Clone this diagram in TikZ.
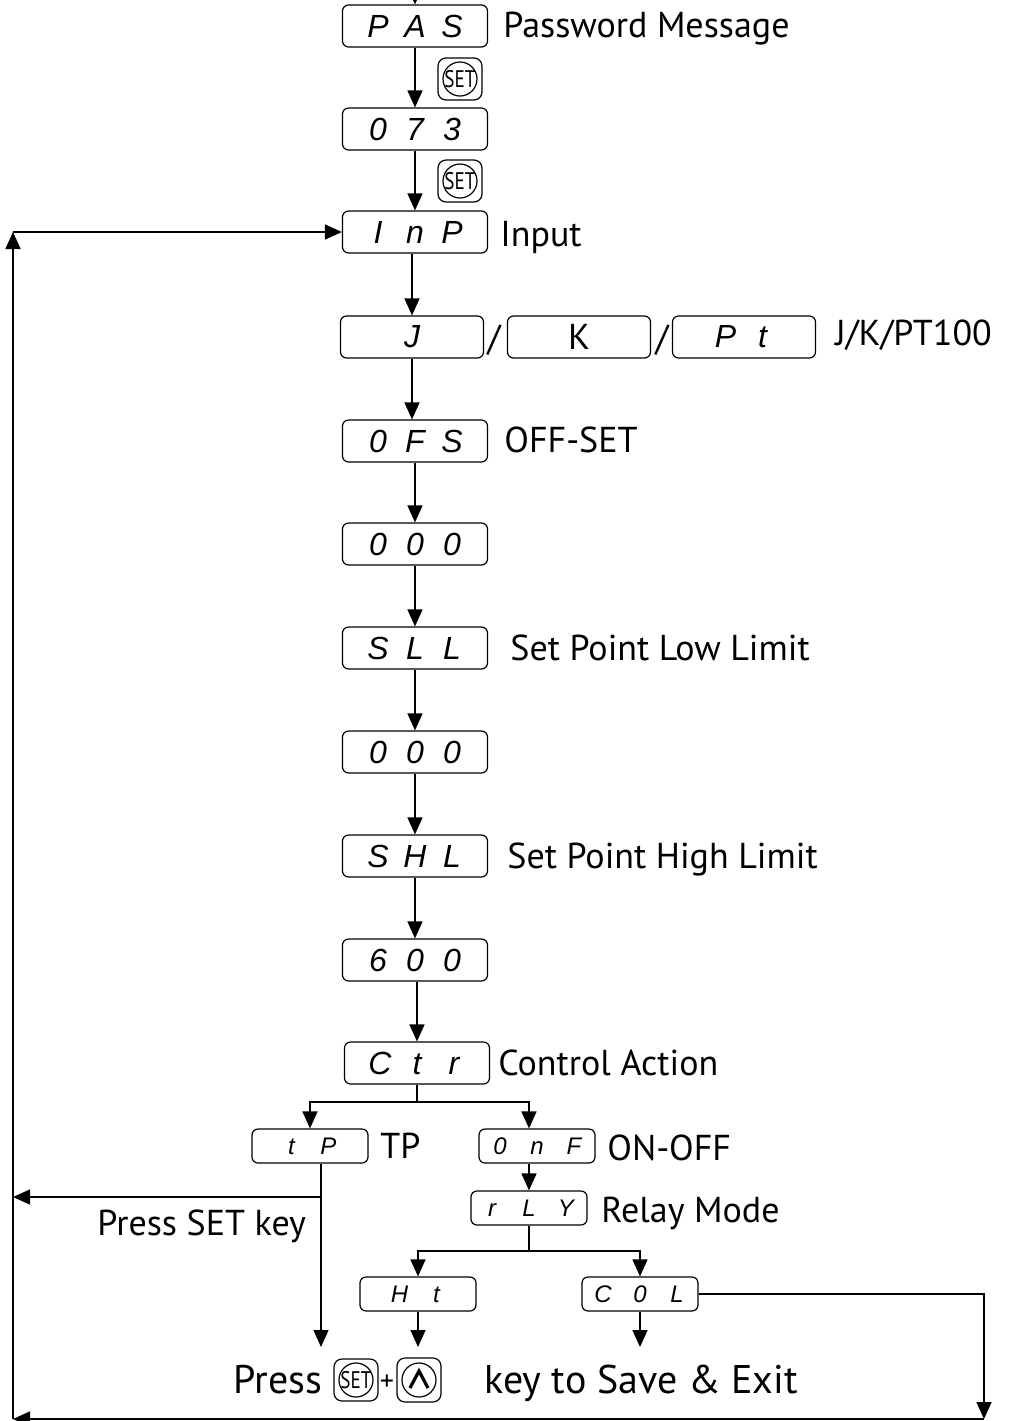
\documentclass[tikz,border=0pt]{standalone}
\usepackage{fontspec}
\setmainfont{PT Sans}
\newfontfamily\segfont{Liberation Sans}
\usetikzlibrary{arrows.meta}

\newcommand\sg[1]{\makebox[18.5pt]{#1}}

\tikzset{
  setkey/.pic={
    \draw[line width=0.6pt, rounded corners=4pt] (-22,-21) rectangle (22,21);
    \draw[line width=0.6pt] (0,0) circle[radius=8.5pt];
    \node[inner sep=0pt, font=\fontsize{12}{12}\selectfont] {\scalebox{0.8}[1]{SET}};
  },
  upkey/.pic={
    \draw[line width=0.6pt, rounded corners=4pt] (-22,-22) rectangle (22,22);
    \draw[line width=0.6pt] (0,0) circle[radius=8.5pt];
    \draw[line width=1.6pt] (-9,8) -- (0,-9) -- (9,8);
  }
}

\begin{document}
\begin{tikzpicture}[x=0.5pt,y=-0.5pt,
    arr/.style={-{Triangle[length=8.5pt,width=7.5pt]}, line width=0.8pt},
    disp/.style={draw, line width=0.6pt, rounded corners=3pt, minimum width=72.5pt,
      minimum height=21pt, inner sep=0pt, font=\segfont\itshape\fontsize{16}{16}\selectfont},
    small/.style={disp, minimum width=58pt, minimum height=17pt,
      font=\segfont\itshape\fontsize{12}{12}\selectfont},
    lbl/.style={anchor=base west, inner sep=0pt, font=\fontsize{18}{18}\selectfont},
    big/.style={anchor=base west, inner sep=0pt, font=\fontsize{20}{20}\selectfont}]
  \useasboundingbox (0,0) rectangle (1011,1421);
  \clip (0,0) rectangle (1011,1421);

  % display boxes
  \node[disp] (pas) at (415,26) {\sg{P}\sg{A}\sg{S}};
  \node[disp] (pwd) at (415,129) {\sg{0}\sg{7}\sg{3}};
  \node[disp] (inp) at (415,232) {\sg{I}\sg{n}\sg{P}};
  \node[disp, minimum width=71.5pt] (tcj) at (412,337) {\sg{J}};
  \node[disp, minimum width=71.5pt, font=\fontsize{18}{18}\selectfont] (tck) at (579,337) {K};
  \node[disp, minimum width=71.5pt] (rtd) at (744,337) {\sg{P}\sg{t}};
  \node[inner sep=0pt, font=\fontsize{18}{18}\selectfont] (sl1) at (494,340) {/};
  \node[inner sep=0pt, font=\fontsize{18}{18}\selectfont] (sl2) at (662,340) {/};
  \node[disp] (ofs) at (415,441) {\sg{0}\sg{F}\sg{S}};
  \node[disp] (ofv) at (415,544) {\sg{0}\sg{0}\sg{0}};
  \node[disp] (sll) at (415,648) {\sg{S}\sg{L}\sg{L}};
  \node[disp] (slv) at (415,752) {\sg{0}\sg{0}\sg{0}};
  \node[disp] (shl) at (415,856) {\sg{S}\sg{H}\sg{L}};
  \node[disp] (shv) at (415,960) {\sg{6}\sg{0}\sg{0}};
  \node[disp] (ctr) at (417,1063) {\sg{C}\sg{t}\sg{r}};
  \node[small] (tp) at (310,1146) {\sg{t}\sg{P}};
  \node[small] (onf) at (537,1146) {\sg{0}\sg{n}\sg{F}};
  \node[small] (rly) at (529,1208) {\sg{r}\sg{L}\sg{Y}};
  \node[small] (ht) at (418,1294) {\sg{H}\sg{t}};
  \node[small] (col) at (640,1294) {\sg{C}\sg{0}\sg{L}};

  % labels
  \node[lbl] (l1) at (503,37) {Password Message};
  \node[lbl] (l2) at (500,246) {Input};
  \node[lbl] (l3) at (835,345) {J/K/PT100};
  \node[lbl] (l4) at (504,452) {OFF-SET};
  \node[lbl] (l5) at (510,660) {Set Point Low Limit};
  \node[lbl] (l6) at (507,868) {Set Point High Limit};
  \node[lbl] (l7) at (498,1075) {Control Action};
  \node[lbl] (l8) at (380,1158) {TP};
  \node[lbl] (l9) at (607,1160) {ON-OFF};
  \node[lbl] (l10) at (601,1222) {Relay Mode};
  \node[lbl] (l11) at (97,1235) {Press SET key};

  % keys
  \pic at (460,79) {setkey};
  \pic at (460,181) {setkey};
  \node[big] (press) at (233,1393) {Press};
  \pic at (356,1380) {setkey};
  \node[anchor=base, inner sep=0pt, font=\fontsize{14}{14}\selectfont] (plus) at (387,1390) {+};
  \pic at (419,1380) {upkey};
  \node[big] (save) at (484,1393) {key to Save \& Exit};

  \coordinate (top) at (415,-30);
  \coordinate (bot) at (0,1347);
  \coordinate (br) at (984,1419);
  \coordinate (bl) at (13,1419);
  \coordinate (tl) at (13,232);

  % main chain
  \draw[arr] (top) -- (pas);
  \draw[arr] (pas) -- (pwd);
  \draw[arr] (pwd) -- (inp);
  \draw[arr] (inp.south -| tcj) -- (tcj);
  \draw[arr] (tcj) -- (tcj |- ofs.north);
  \draw[arr] (ofs) -- (ofv);
  \draw[arr] (ofv) -- (sll);
  \draw[arr] (sll) -- (slv);
  \draw[arr] (slv) -- (shl);
  \draw[arr] (shl) -- (shv);
  \draw[arr] (shv.south -| ctr) -- (ctr);

  % control action branches
  \coordinate (f1) at (ctr.south |- 0,1102);
  \draw[line width=0.8pt] (ctr) -- (f1);
  \draw[arr] (f1) -| (tp);
  \draw[arr] (f1) -| (rly.north |- onf.north);
  \draw[arr] (onf.south -| rly.north) -- (rly);
  \coordinate (f2) at (rly.south |- 0,1251);
  \draw[line width=0.8pt] (rly) -- (f2);
  \draw[arr] (f2) -| (ht);
  \draw[arr] (f2) -| (col);
  \draw[arr] (ht) -- (ht.south |- bot);
  \draw[arr] (col) -- (col.south |- bot);

  % TP path
  \coordinate (tpd) at ([xshift=5.5pt]tp.south);
  \coordinate (tpb) at (tpd |- 0,1197);
  \draw[arr, line width=0.6pt] (tpd) -- (tpd |- bot);
  \draw[arr, line width=0.6pt] (tpb) -- (tpb -| bl);

  % return loop
  \draw[arr] (col.east) -| (br);
  \draw[arr] (br) -- (bl);
  \draw[arr] (bl) -- (tl);
  \draw[arr] (tl) -- (inp);
\end{tikzpicture}
\end{document}
